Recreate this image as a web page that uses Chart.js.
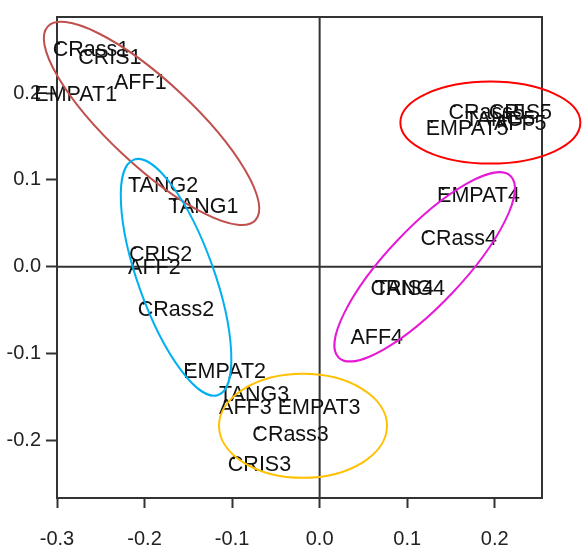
<!DOCTYPE html>
<html lang="en">
<head>
  <meta charset="UTF-8">
  <title>Correspondence plot</title>
  <script src="https://cdn.jsdelivr.net/npm/chart.js"></script>
  <style>
    body {
      margin: 0;
      background: #fff;
    }

    .chart-container {
      width: 582px;
      height: 549px;
    }
  </style>
</head>
<body>

<div class="chart-container">
  <canvas id="caChart"></canvas>
</div>

<script>
  const pointLabels = [
    "CRass1", "CRIS1", "AFF1", "EMPAT1", "TANG1",
    "CRass2", "CRIS2", "AFF2", "EMPAT2", "TANG2",
    "CRass3", "CRIS3", "AFF3", "EMPAT3", "TANG3",
    "CRass4", "CRIS4", "AFF4", "EMPAT4", "TANG4",
    "CRass5", "CRIS5", "AFF5", "EMPAT5", "TANG5"
  ];
  const dim1 = [
    -0.298, -0.269, -0.228, -0.319, -0.166,
    -0.201, -0.211, -0.212, -0.149, -0.212,
    -0.070, -0.098, -0.108, -0.041, -0.108,
     0.122,  0.065,  0.042,  0.141,  0.070,
     0.154,  0.200,  0.206,  0.128,  0.173
  ];
  const dim2 = [
     0.257,  0.248,  0.219,  0.206,  0.077,
    -0.042,  0.022,  0.007, -0.1125, 0.101,
    -0.186, -0.220, -0.155, -0.155, -0.139,
     0.040, -0.017, -0.074,  0.090, -0.017,
     0.185,  0.185,  0.172,  0.167,  0.177
  ];
  const xTicks = [-0.3, -0.2, -0.1, 0.0, 0.1, 0.2];
  const yTicks = [-0.2, -0.1, 0.0, 0.1, 0.2];

  // hand-drawn group rings: centre in data units, radii in px
  const rings = [
    { cx: -0.192, cy: 0.165,  rx: 142, ry: 42, rot: 43,   color: '#c0504d' },
    { cx: -0.164, cy: -0.012, rx: 125, ry: 38, rot: 70.3, color: '#00b0f0' },
    { cx: -0.019, cy: -0.183, rx: 84,  ry: 52, rot: 0,    color: '#ffc000' },
    { cx: 0.120,  cy: 0.000,  rx: 125, ry: 38, rot: -46.6, color: '#e619d6' },
    { cx: 0.195,  cy: 0.166,  rx: 90,  ry: 41, rot: 0,    color: '#ff0000' }
  ];

  const FONT = "'Liberation Sans', Arial, sans-serif";
  const INK = '#333';

  const framePlugin = {
    id: 'frame',
    beforeDatasetsDraw(chart) {
      const { ctx, chartArea: a, scales } = chart;
      const x0 = scales.x.getPixelForValue(0);
      const y0 = scales.y.getPixelForValue(0);
      ctx.save();
      ctx.strokeStyle = INK;
      ctx.lineWidth = 2;
      ctx.strokeRect(a.left, a.top, a.right - a.left, a.bottom - a.top);
      ctx.beginPath();
      ctx.moveTo(x0, a.top);
      ctx.lineTo(x0, a.bottom);
      ctx.moveTo(a.left, y0);
      ctx.lineTo(a.right, y0);
      ctx.stroke();
      ctx.restore();
    }
  };

  const labelPlugin = {
    id: 'pointText',
    afterDatasetsDraw(chart) {
      const { ctx } = chart;
      const meta = chart.getDatasetMeta(0);
      ctx.save();
      ctx.font = '21.5px ' + FONT;
      ctx.fillStyle = '#111';
      ctx.textAlign = 'left';
      ctx.textBaseline = 'middle';
      meta.data.forEach((pt, i) => {
        ctx.fillText(pointLabels[i], pt.x - 6, pt.y + 7);
      });
      ctx.restore();
    }
  };

  const ringPlugin = {
    id: 'rings',
    afterDraw(chart) {
      const { ctx, scales } = chart;
      ctx.save();
      ctx.lineWidth = 2;
      rings.forEach(r => {
        ctx.strokeStyle = r.color;
        ctx.beginPath();
        ctx.ellipse(scales.x.getPixelForValue(r.cx), scales.y.getPixelForValue(r.cy),
          r.rx, r.ry, r.rot * Math.PI / 180, 0, Math.PI * 2);
        ctx.stroke();
      });
      ctx.restore();
    }
  };

  new Chart(document.getElementById('caChart'), {
    type: 'scatter',
    data: {
      datasets: [{
        data: dim1.map((x, i) => ({ x: x, y: dim2[i] })),
        pointRadius: 1.3,
        pointBackgroundColor: '#000',
        pointBorderWidth: 0,
        clip: false
      }]
    },
    options: {
      responsive: true,
      maintainAspectRatio: false,
      animation: false,
      layout: { padding: { top: 11, right: 40, bottom: 0, left: 0 } },
      plugins: {
        legend: { display: false },
        tooltip: { enabled: false }
      },
      scales: {
        x: {
          min: -0.3,
          max: 0.254,
          afterBuildTicks: s => { s.ticks = xTicks.map(v => ({ value: v })); },
          afterFit: s => { s.height = 51; },
          border: { display: false },
          grid: { drawOnChartArea: false, tickLength: 10, tickColor: INK, tickWidth: 2 },
          ticks: {
            padding: 19,
            color: '#222',
            font: { family: FONT, size: 20 },
            callback: v => v.toFixed(1)
          }
        },
        y: {
          min: -0.266,
          max: 0.2875,
          afterBuildTicks: s => { s.ticks = yTicks.map(v => ({ value: v })); },
          afterFit: s => { s.width = 57; },
          border: { display: false },
          grid: { drawOnChartArea: false, tickLength: 11, tickColor: INK, tickWidth: 2 },
          ticks: {
            padding: 5,
            color: '#222',
            font: { family: FONT, size: 20 },
            callback: v => v.toFixed(1)
          }
        }
      }
    },
    plugins: [framePlugin, labelPlugin, ringPlugin]
  });
</script>

</body>
</html>
